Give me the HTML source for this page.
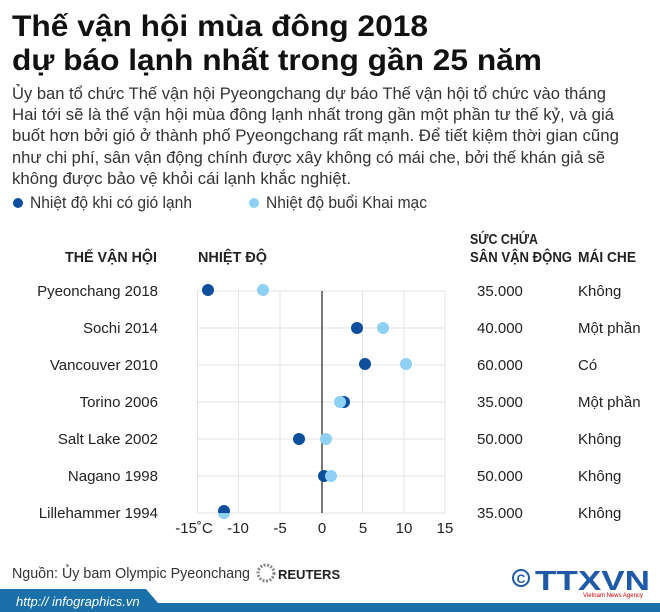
<!DOCTYPE html>
<html><head><meta charset="utf-8"><style>
html,body{margin:0;padding:0;background:#fff;}
svg{display:block;font-family:"Liberation Sans",sans-serif;}
</style></head><body>
<svg width="660" height="612" viewBox="0 0 660 612" xmlns="http://www.w3.org/2000/svg">
<rect width="660" height="612" fill="#fff"/>
<g font-weight="bold" font-size="30" fill="#111">
<text x="12" y="36" textLength="416" lengthAdjust="spacingAndGlyphs">Thế vận hội mùa đông 2018</text>
<text x="12" y="70" textLength="530" lengthAdjust="spacingAndGlyphs">dự báo lạnh nhất trong gần 25 năm</text>
</g>
<g font-size="16.5" fill="#333">
<text x="12" y="99" textLength="594" lengthAdjust="spacingAndGlyphs">Ủy ban tổ chức Thế vận hội Pyeongchang dự báo Thế vận hội tổ chức vào tháng</text>
<text x="12" y="120" textLength="602" lengthAdjust="spacingAndGlyphs">Hai tới sẽ là thế vận hội mùa đông lạnh nhất trong gần một phần tư thế kỷ, và giá</text>
<text x="12" y="141" textLength="607" lengthAdjust="spacingAndGlyphs">buốt hơn bởi gió ở thành phố Pyeongchang rất mạnh. Để tiết kiệm thời gian cũng</text>
<text x="12" y="163" textLength="593" lengthAdjust="spacingAndGlyphs">như chi phí, sân vận động chính được xây không có mái che, bởi thế khán giả sẽ</text>
<text x="12" y="184" textLength="339" lengthAdjust="spacingAndGlyphs">không được bảo vệ khỏi cái lạnh khắc nghiệt.</text>
<circle cx="18" cy="203" r="5" fill="#0d4f9c"/>
<text x="30" y="208" textLength="162" lengthAdjust="spacingAndGlyphs">Nhiệt độ khi có gió lạnh</text>
<circle cx="254" cy="203" r="5" fill="#8fd0f5"/>
<text x="266" y="208" textLength="161" lengthAdjust="spacingAndGlyphs">Nhiệt độ buổi Khai mạc</text>
</g>
<g font-weight="bold" font-size="14.5" fill="#222">
<text x="65" y="262" textLength="92" lengthAdjust="spacingAndGlyphs">THẾ VẬN HỘI</text>
<text x="198" y="262" textLength="69" lengthAdjust="spacingAndGlyphs">NHIỆT ĐỘ</text>
<text x="470" y="244" textLength="68" lengthAdjust="spacingAndGlyphs">SỨC CHỨA</text>
<text x="470" y="262" textLength="102" lengthAdjust="spacingAndGlyphs">SÂN VẬN ĐỘNG</text>
<text x="578" y="262" textLength="58" lengthAdjust="spacingAndGlyphs">MÁI CHE</text>
</g>
<g stroke="#e3e3e3" stroke-width="1">
<line x1="197" y1="291" x2="445" y2="291"/><line x1="197" y1="328" x2="445" y2="328"/>
<line x1="197" y1="365" x2="445" y2="365"/><line x1="197" y1="402" x2="445" y2="402"/>
<line x1="197" y1="439" x2="445" y2="439"/><line x1="197" y1="476" x2="445" y2="476"/>
<line x1="197" y1="513" x2="445" y2="513"/>
<line x1="197.5" y1="291" x2="197.5" y2="513"/><line x1="238.5" y1="291" x2="238.5" y2="513"/>
<line x1="280" y1="291" x2="280" y2="513"/><line x1="362.5" y1="291" x2="362.5" y2="513"/>
<line x1="404" y1="291" x2="404" y2="513"/><line x1="445" y1="291" x2="445" y2="513"/>
</g>
<line x1="322" y1="291" x2="322" y2="513" stroke="#333" stroke-width="1.3"/>
<g fill="#0d4f9c">
<circle cx="208" cy="290" r="6"/><circle cx="357" cy="328" r="6"/><circle cx="365" cy="364" r="6"/>
<circle cx="344" cy="402" r="6"/><circle cx="299" cy="439" r="6"/><circle cx="324" cy="476" r="6"/>
<circle cx="224" cy="511" r="6"/>
</g>
<g fill="#8fd0f5">
<circle cx="263" cy="290" r="6"/><circle cx="383" cy="328" r="6"/><circle cx="406" cy="364" r="6"/>
<circle cx="340" cy="402" r="6"/><circle cx="326" cy="439" r="6"/><circle cx="331" cy="476" r="6"/>
<path d="M218 513 a6 6 0 0 0 12 0 z"/>
</g>
<g font-size="15" fill="#222" text-anchor="end">
<text x="158" y="296">Pyeonchang 2018</text><text x="158" y="333">Sochi 2014</text>
<text x="158" y="370">Vancouver 2010</text><text x="158" y="407">Torino 2006</text>
<text x="158" y="444">Salt Lake 2002</text><text x="158" y="481">Nagano 1998</text>
<text x="158" y="518">Lillehammer 1994</text>
</g>
<g font-size="15" fill="#222">
<text x="477" y="296">35.000</text><text x="477" y="333">40.000</text><text x="477" y="370">60.000</text>
<text x="477" y="407">35.000</text><text x="477" y="444">50.000</text><text x="477" y="481">50.000</text>
<text x="477" y="518">35.000</text>
<text x="578" y="296">Không</text><text x="578" y="333">Một phần</text><text x="578" y="370">Có</text>
<text x="578" y="407">Một phần</text><text x="578" y="444">Không</text><text x="578" y="481">Không</text>
<text x="578" y="518">Không</text>
</g>
<g font-size="15" fill="#222" text-anchor="middle">
<text x="194" y="533">-15˚C</text><text x="238" y="533">-10</text><text x="280" y="533">-5</text>
<text x="322" y="533">0</text><text x="363" y="533">5</text><text x="404" y="533">10</text><text x="445" y="533">15</text>
</g>
<text x="12" y="578" font-size="15" fill="#333" textLength="238" lengthAdjust="spacingAndGlyphs">Nguồn: Ủy bam Olympic Pyeonchang</text>
<circle cx="266" cy="573" r="8" fill="none" stroke="#888" stroke-width="3" stroke-dasharray="2 1.5"/>
<text x="278" y="579" font-size="13" font-weight="bold" fill="#222">REUTERS</text>
<circle cx="521" cy="578" r="8" fill="none" stroke="#1e5aa8" stroke-width="2"/>
<text x="521" y="583" font-size="12" font-weight="bold" fill="#1e5aa8" text-anchor="middle">C</text>
<text x="535" y="590" font-size="28" font-weight="bold" fill="#1e5aa8" textLength="115" lengthAdjust="spacingAndGlyphs">TTXVN</text>
<text x="583" y="597" font-size="6" fill="#c00">Vietnam News Agency</text>
<rect x="0" y="603" width="660" height="9" fill="#1a70a8"/>
<path d="M0 589 H146 L158 603 V612 H0 Z" fill="#1a70a8"/>
<text x="16" y="606" font-size="13" font-style="italic" fill="#fff">http:// infographics.vn</text>
</svg>
</body></html>
